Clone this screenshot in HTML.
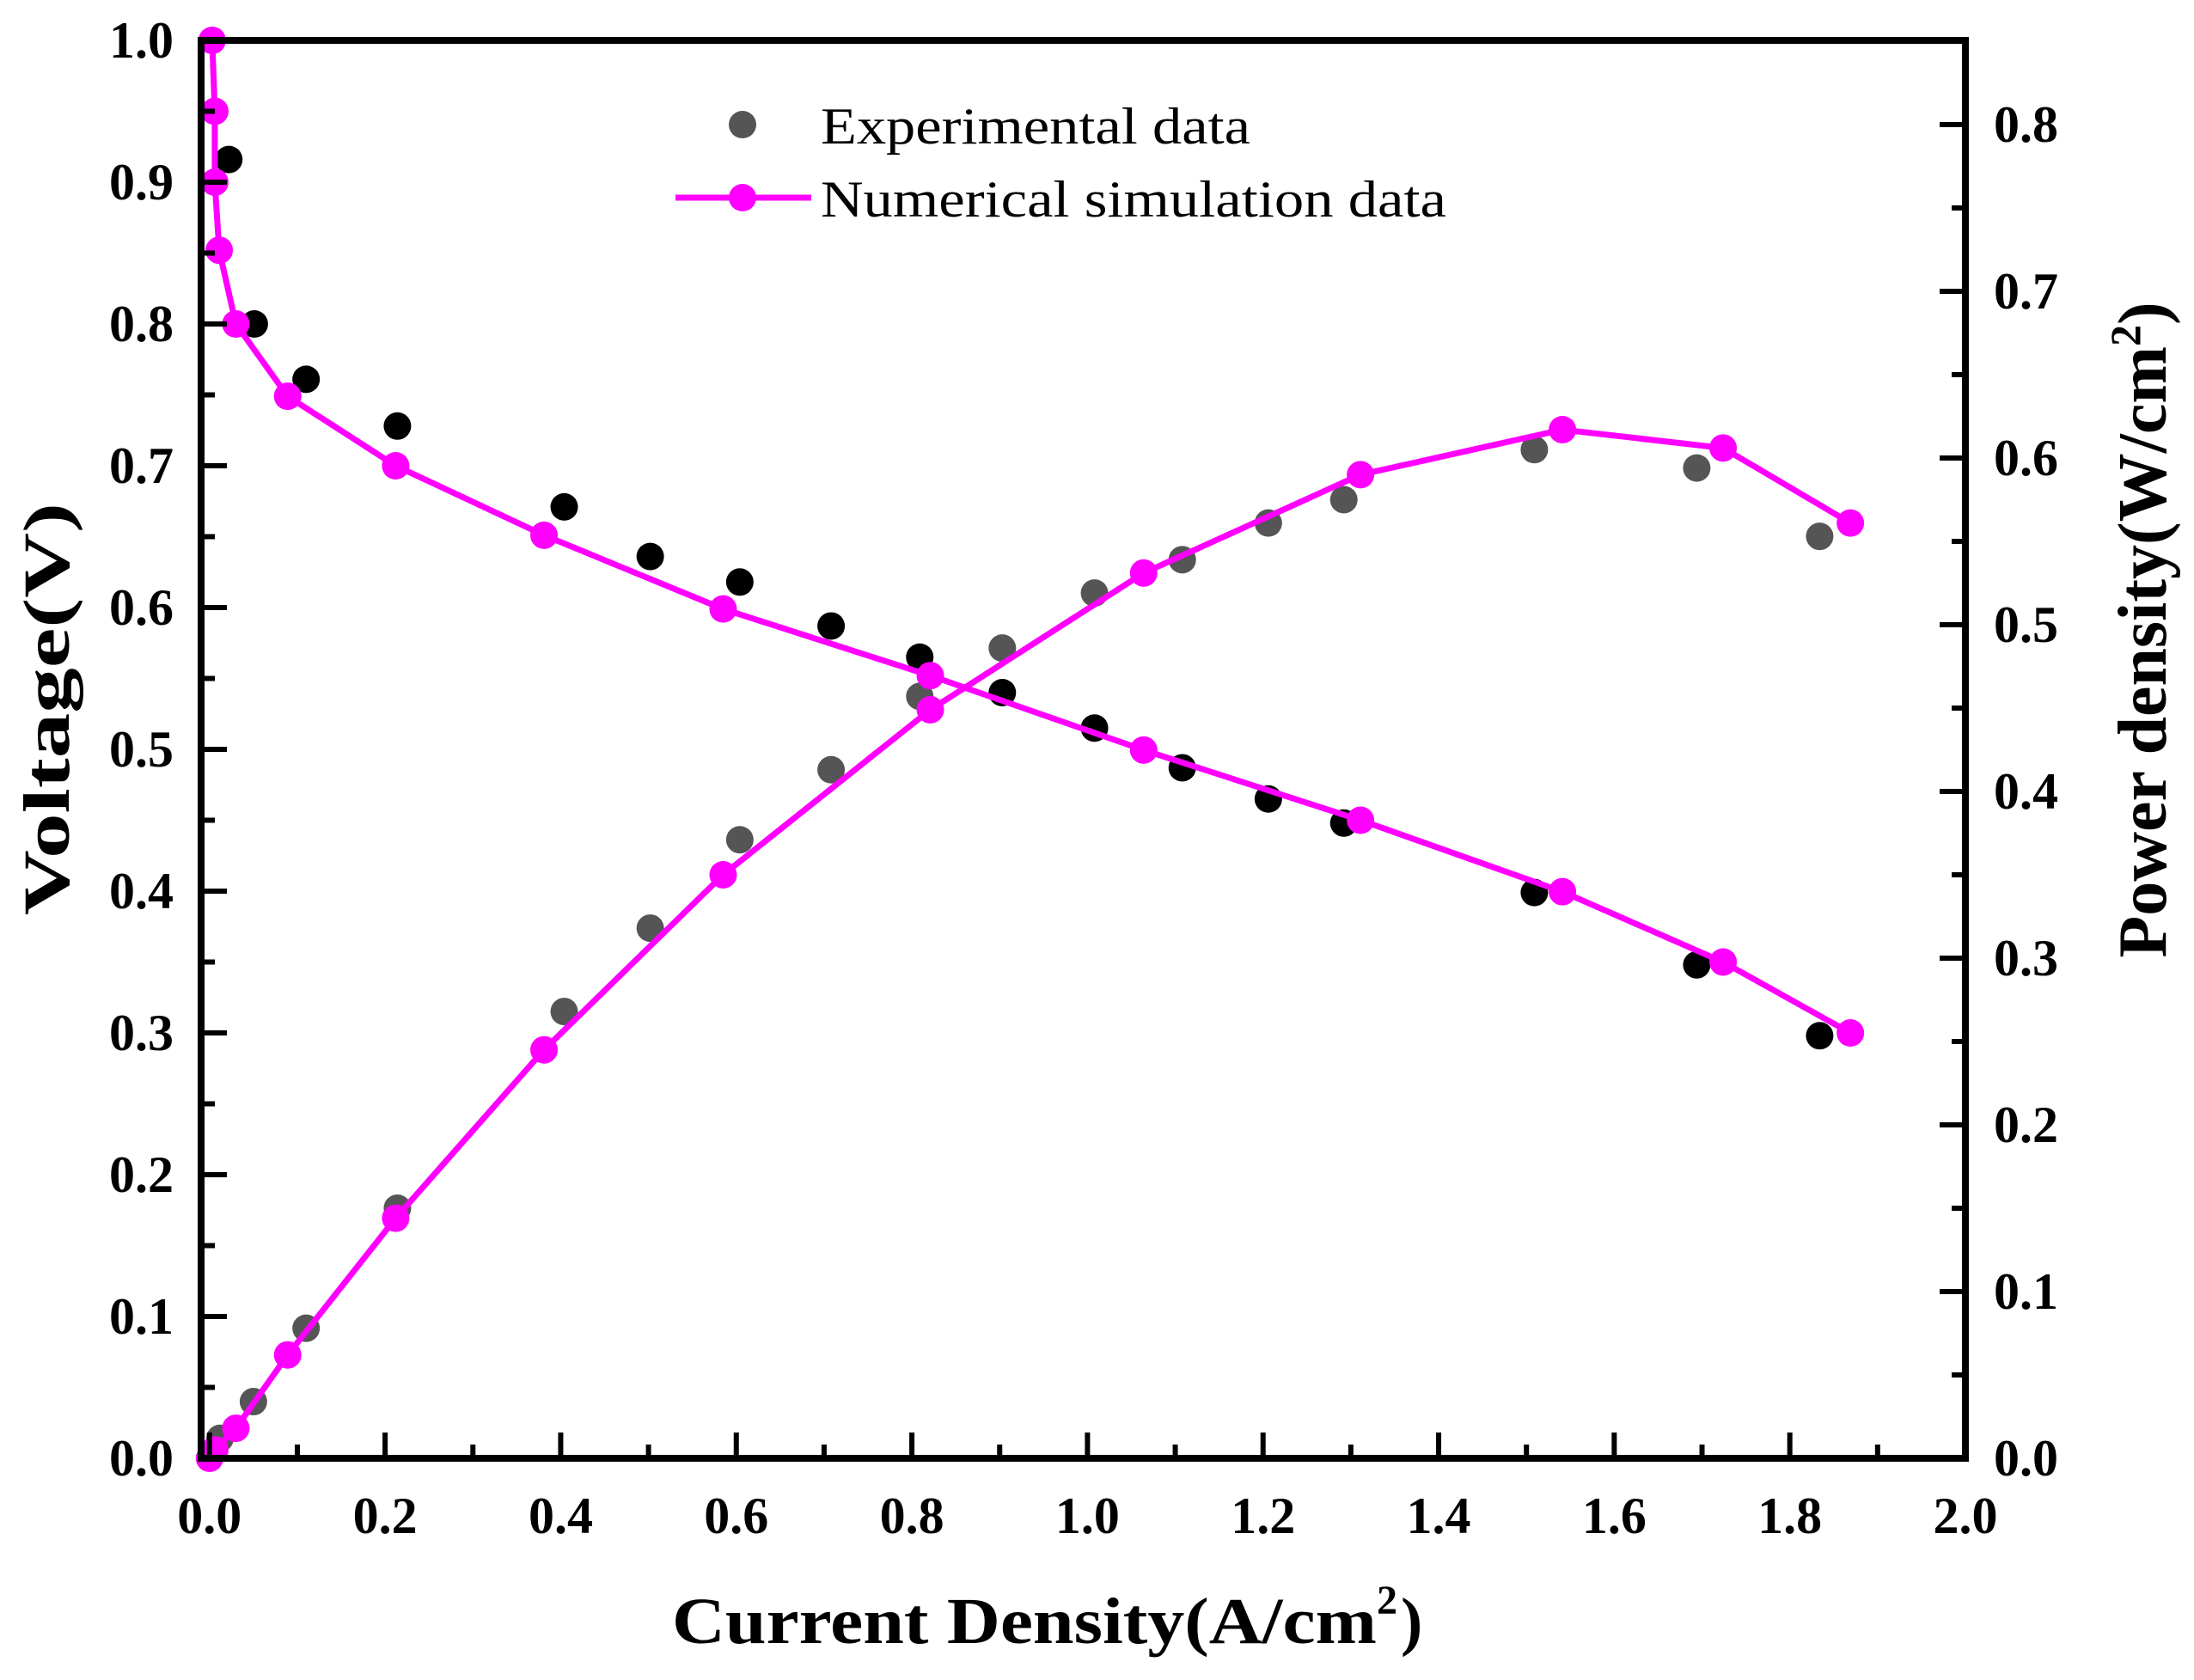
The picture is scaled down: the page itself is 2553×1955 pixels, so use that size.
<!DOCTYPE html>
<html><head><meta charset="utf-8"><style>
html,body{margin:0;padding:0;background:#fff;}
svg{display:block;}
text{font-family:"Liberation Serif",serif;}
</style></head><body>
<svg id="chart" width="2553" height="1955" viewBox="0 0 2553 1955" xmlns="http://www.w3.org/2000/svg">
<g id="marks"></g>
<g id="axes"></g>
<g>
  <circle cx="864" cy="145" r="16" fill="#555"/>
  <text x="955" y="167" font-size="60" textLength="500" lengthAdjust="spacingAndGlyphs">Experimental data</text>
  <line x1="786" y1="230" x2="944" y2="230" stroke="#ff00ff" stroke-width="7"/>
  <circle cx="864" cy="230" r="16" fill="#ff00ff"/>
  <text x="955" y="252" font-size="60" textLength="728" lengthAdjust="spacingAndGlyphs">Numerical simulation data</text>
</g>
<text x="782" y="1912" font-size="76" font-weight="bold" textLength="820" lengthAdjust="spacingAndGlyphs">Current Density(A/cm</text>
<text x="1602" y="1878" font-size="48" font-weight="bold">2</text>
<text x="1630" y="1912" font-size="76" font-weight="bold">)</text>
<text transform="translate(80,825) rotate(-90)" font-size="76" font-weight="bold" text-anchor="middle" textLength="480" lengthAdjust="spacingAndGlyphs">Voltage(V)</text>
<text transform="translate(2520,733) rotate(-90)" font-size="80" font-weight="bold" text-anchor="middle">Power density(W/cm<tspan dy="-30" font-size="50">2</tspan><tspan dy="30">)</tspan></text>
</svg>
<script>
const expCurrentV = [0.022,0.051,0.11,0.214,0.404,0.502,0.604,0.708,0.809,0.903,1.008,1.108,1.206,1.292,1.509,1.694,1.834];
const expVoltage = [0.916,0.80,0.761,0.728,0.671,0.636,0.618,0.587,0.565,0.54,0.515,0.487,0.465,0.448,0.399,0.348,0.298];
const expCurrentP = [0.012,0.05,0.11,0.214,0.404,0.502,0.604,0.708,0.809,0.903,1.008,1.108,1.206,1.292,1.509,1.694,1.834];
const expPower = [0.012,0.034,0.078,0.150,0.268,0.318,0.371,0.413,0.457,0.486,0.519,0.539,0.561,0.575,0.605,0.594,0.553];
const simCurrentV = [0.003,0.006,0.006,0.011,0.03,0.089,0.212,0.381,0.585,0.821,1.064,1.311,1.541,1.724,1.869];
const simVoltage = [1.0,0.95,0.90,0.852,0.80,0.749,0.70,0.651,0.599,0.552,0.4995,0.45,0.3996,0.35,0.30];
const simCurrentP = [0.0,0.006,0.03,0.089,0.212,0.381,0.585,0.821,1.064,1.311,1.541,1.724,1.869];
const simPower = [0.0,0.005,0.018,0.062,0.144,0.245,0.350,0.449,0.531,0.590,0.617,0.606,0.561];
const xTicks = ["0.0","0.2","0.4","0.6","0.8","1.0","1.2","1.4","1.6","1.8","2.0"];
const yLeftTicks = ["0.0","0.1","0.2","0.3","0.4","0.5","0.6","0.7","0.8","0.9","1.0"];
const yRightTicks = ["0.0","0.1","0.2","0.3","0.4","0.5","0.6","0.7","0.8"];

const NS="http://www.w3.org/2000/svg";
const L=234,R=2287,T=47,B=1697;
const xMin=-0.0096,xMax=2.0,yLMax=1.0,yRMax=0.8505;
function xs(v){return L+(v-xMin)/(xMax-xMin)*(R-L);}
function yl(v){return B-v/yLMax*(B-T);}
function yr(v){return B-v/yRMax*(B-T);}
function mk(tag,attrs,parent){const e=document.createElementNS(NS,tag);for(const k in attrs)e.setAttribute(k,attrs[k]);parent.appendChild(e);return e;}
const marks=document.getElementById('marks'),axes=document.getElementById('axes');
const MR=16;
expCurrentV.forEach((c,i)=>{const e=mk('circle',{cx:xs(c),cy:yl(expVoltage[i]),r:MR,fill:'#000'},marks);

});
expCurrentP.forEach((c,i)=>{const e=mk('circle',{cx:xs(c),cy:yr(expPower[i]),r:MR,fill:'#555'},marks);

});
let pv=mk('polyline',{points:simCurrentV.map((c,i)=>xs(c)+','+yl(simVoltage[i])).join(' '),fill:'none',stroke:'#ff00ff','stroke-width':7},marks);


let pp=mk('polyline',{points:simCurrentP.map((c,i)=>xs(c)+','+yr(simPower[i])).join(' '),fill:'none',stroke:'#ff00ff','stroke-width':7},marks);


simCurrentV.forEach((c,i)=>{const e=mk('circle',{cx:xs(c),cy:yl(simVoltage[i]),r:MR,fill:'#ff00ff'},marks);

});
simCurrentP.forEach((c,i)=>{const e=mk('circle',{cx:xs(c),cy:yr(simPower[i]),r:MR,fill:'#ff00ff'},marks);

});

const fr=mk('rect',{x:L,y:T,width:R-L,height:B-T,fill:'none',stroke:'#000','stroke-width':8},axes);


xTicks.forEach((t,i)=>{const v=parseFloat(t),x=xs(v);
mk('line',{x1:x,y1:B,x2:x,y2:B-30,stroke:'#000','stroke-width':6},axes);
if(i<xTicks.length-1){const xm=xs(v+0.1);mk('line',{x1:xm,y1:B,x2:xm,y2:B-16,stroke:'#000','stroke-width':6},axes);}
const e=mk('text',{x:x,y:1784,'font-size':60,'font-weight':'bold','text-anchor':'middle'},axes);e.textContent=t;

});
yLeftTicks.forEach((t,i)=>{const v=parseFloat(t),y=yl(v);
mk('line',{x1:L,y1:y,x2:L+30,y2:y,stroke:'#000','stroke-width':6},axes);
if(i<yLeftTicks.length-1){const ym=yl(v+0.05);mk('line',{x1:L,y1:ym,x2:L+16,y2:ym,stroke:'#000','stroke-width':6},axes);}
const e=mk('text',{x:202,y:y+20,'font-size':60,'font-weight':'bold','text-anchor':'end'},axes);e.textContent=t;

});
yRightTicks.forEach((t,i)=>{const v=parseFloat(t),y=yr(v);
mk('line',{x1:R,y1:y,x2:R-30,y2:y,stroke:'#000','stroke-width':6},axes);
const ym=yr(v+0.05);if(ym>T)mk('line',{x1:R,y1:ym,x2:R-16,y2:ym,stroke:'#000','stroke-width':6},axes);
const e=mk('text',{x:2320,y:y+20,'font-size':60,'font-weight':'bold','text-anchor':'start'},axes);e.textContent=t;

});
</script>
</body></html>
